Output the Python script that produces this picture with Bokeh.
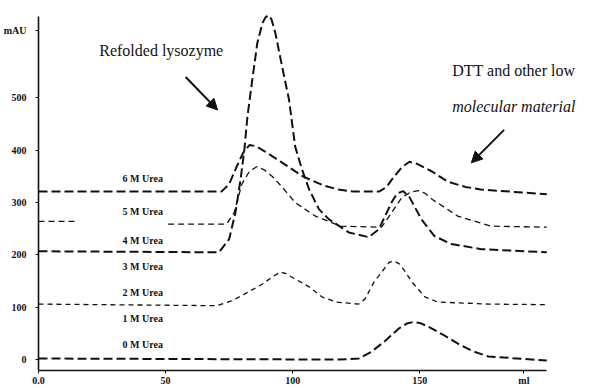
from bokeh.plotting import figure
from bokeh.models import FixedTicker, Label, Arrow, NormalHead
from bokeh.core.properties import value
from bokeh.embed import file_html
from bokeh.resources import INLINE

NaN = float("nan")

# ---- data (elution volume in ml, absorbance in mAU) ----
urea6_ml  = [0, 72, 75, 78, 80.5, 83, 85.5, 89, 96, 104, 112, 118, 124, 134, 137, 139, 143, 146,
             149, 155, 161, 168, 174, 200]
urea6_mau = [321, 321, 335, 369, 395, 410, 408, 398, 376, 350, 333, 325, 321, 321, 330, 344, 368, 378,
             374, 359, 340, 330, 325, 316]

urea5_ml  = [0, 15, NaN, 51, 74, 77, 80, 83, 86, 89, 92, 96, 101, 109, 119, 135, 139, 143, 146.5,
             149.5, 152, 155, 165, 178, 200]
urea5_mau = [264, 264, NaN, 259, 259, 281, 335, 360, 369, 362, 350, 329, 300, 274, 255, 253, 281, 310, 320,
             323, 318, 306, 274, 255, 253]

urea4_ml  = [0, 71, 75, 77.5, 79.5, 81, 82.2, 84.1, 86.1, 88.1, 89.3, 90.4, 91.7, 93.2, 95.9, 98.6, 101,
             103.7, 106.5, 110.4, 114.3, 122.1, 129.9, 133.9, 138.9, 141, 143.5, 146, 150.7, 155.8,
             162.4, 174.2, 200]
urea4_mau = [207, 205, 230, 281, 344, 401, 464, 534, 605, 643, 654, 658, 650, 624, 559, 496, 407,
             363, 325, 287, 268, 243, 234, 249, 300, 317, 322, 310, 268, 236,
             221, 211, 205]

urea2_ml  = [0, 70, 76, 81, 88, 92, 95, 97, 101, 106.5, 111.5, 117, 126, 128.5, 132, 135, 138, 140,
             142, 144, 147, 152, 157, 177, 200]
urea2_mau = [106, 103, 112, 125, 144, 158, 167, 165, 154, 139, 120, 110, 106, 116, 148, 167, 186, 188,
             183, 170, 148, 120, 110, 106, 105]

urea0_ml  = [0, 118, 126, 131, 136, 141.7, 145, 147.6, 150, 153.4, 159.7, 165.2, 171.4, 177, 200]
urea0_mau = [2, 0, 2, 15, 34, 59, 69, 72, 70, 63, 46, 30, 15, 6, -2]

urea_labels = ["6 M Urea", "5 M Urea", "4 M Urea", "3 M Urea", "2 M Urea", "1 M Urea", "0 M Urea"]
label_ml  = [41, 41, 41, 41, 41, 41, 41]
label_mau = [346, 283, 228, 177, 129, 78, 29]

y_ticks = [0, 100, 200, 300, 400, 500, 629]
y_tick_labels = ["0", "100", "200", "300", "400", "500", "mAU"]
x_ticks = [0, 50, 100, 150, 191]
x_tick_labels = ["0.0", "50", "100", "150", "ml"]

SERIF = "Liberation Serif"
INK = "#111111"

p = figure(width=590, height=388, x_range=(0, 217.2), y_range=(-20.9, 686.3),
           output_backend="svg", toolbar_location=None,
           min_border_left=35, min_border_right=0, min_border_top=0, min_border_bottom=16)
p.outline_line_color = None
p.xgrid.visible = False
p.ygrid.visible = False
p.background_fill_color = "white"

# curves
p.line(urea6_ml, urea6_mau, line_color=INK, line_width=2.0, line_dash="9 4")
p.line(urea5_ml, urea5_mau, line_color=INK, line_width=1.3, line_dash="6 4")
p.line(urea4_ml, urea4_mau, line_color=INK, line_width=2.0, line_dash="9 4")
p.line(urea2_ml, urea2_mau, line_color=INK, line_width=1.3, line_dash="5 4")
p.line(urea0_ml, urea0_mau, line_color=INK, line_width=2.0, line_dash="9 4")

# urea labels
p.text(x=label_ml, y=label_mau, text=urea_labels, text_font=value(SERIF),
       text_font_style="bold", text_font_size="10px", text_align="center",
       text_baseline="middle", text_color=INK)

# annotations
p.add_layout(Label(x=23.9, y=591, text="Refolded lysozyme", text_font=SERIF,
                   text_font_size="16px", text_baseline="middle", text_color=INK))
p.add_layout(Label(x=162.8, y=553, text="DTT and other low", text_font=SERIF,
                   text_font_size="16px", text_baseline="middle", text_color=INK))
p.add_layout(Label(x=162.8, y=483, text="molecular material", text_font=SERIF,
                   text_font_size="16px", text_font_style="italic",
                   text_baseline="middle", text_color=INK))
p.add_layout(Arrow(x_start=57.9, y_start=540, x_end=70.5, y_end=477, line_width=2,
                   line_color=INK,
                   end=NormalHead(size=11, fill_color=INK, line_color=INK)))
p.add_layout(Arrow(x_start=183.2, y_start=439, x_end=170.3, y_end=376, line_width=2,
                   line_color=INK,
                   end=NormalHead(size=11, fill_color=INK, line_color=INK)))

# axes
for ax in (p.xaxis[0], p.yaxis[0]):
    ax.axis_line_color = INK
    ax.axis_line_width = 1.6
    ax.major_tick_line_color = INK
    ax.minor_tick_line_color = None
    ax.major_label_text_font = "'Liberation Serif'"
    ax.major_label_text_font_style = "bold"
    ax.major_label_text_font_size = "10px"
    ax.major_label_text_color = INK
    ax.major_tick_in = 0
    ax.axis_label = None
    ax.axis_label_standoff = 0

p.yaxis[0].ticker = FixedTicker(ticks=y_ticks)
p.yaxis[0].major_label_overrides = {t: s for t, s in zip(y_ticks, y_tick_labels)}
p.yaxis[0].bounds = (-20.9, 656)
p.yaxis[0].major_tick_out = 3
p.yaxis[0].major_label_standoff = 9

p.xaxis[0].ticker = FixedTicker(ticks=x_ticks)
p.xaxis[0].major_label_overrides = {t: s for t, s in zip(x_ticks, x_tick_labels)}
p.xaxis[0].bounds = (0, 200)
p.xaxis[0].major_tick_out = 3
p.xaxis[0].major_label_standoff = 1

open("out.html", "w").write(file_html(p, INLINE))
